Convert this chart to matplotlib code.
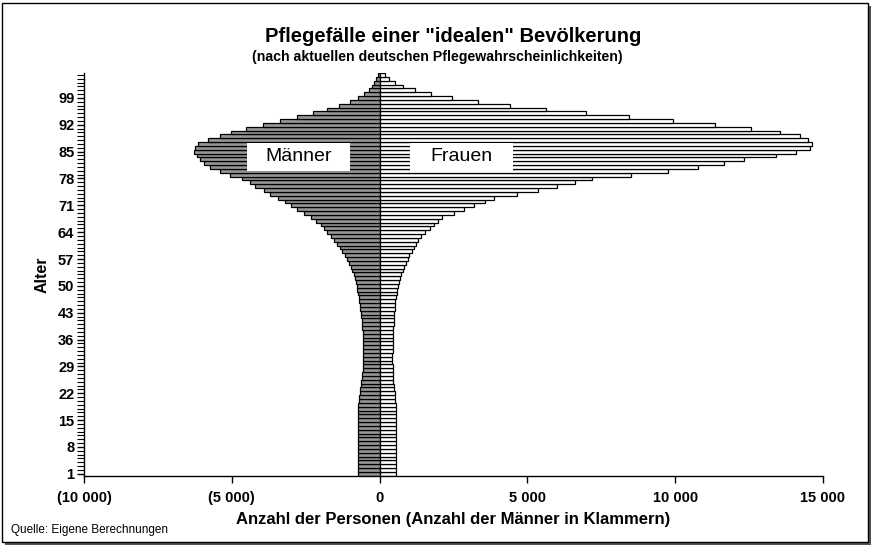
import matplotlib
matplotlib.use("Agg")
import matplotlib.pyplot as plt
from matplotlib.patches import Rectangle
from matplotlib.ticker import FixedLocator, FuncFormatter

plt.rcParams['font.family'] = ['Liberation Sans', 'DejaVu Sans']

# ages 1..105
ages = list(range(1, 106))

# men (absolute counts), ages 1..105, rows of 10 ages
men = [
    745, 745, 745, 745, 745, 745, 745, 745, 745, 745,          # 1-10
    745, 745, 745, 745, 745, 745, 745, 745, 725, 705,          # 11-20
    685, 665, 648, 630, 614, 600, 588, 576, 566, 558,          # 21-30
    552, 548, 548, 550, 554, 560, 567, 575, 584, 595,          # 31-40
    610, 628, 645, 660, 675, 690, 710, 730, 755, 780,          # 41-50
    810, 840, 880, 920, 970, 1030, 1100, 1180, 1260, 1350,     # 51-60
    1450, 1550, 1660, 1780, 1880, 1990, 2150, 2330, 2550, 2800,  # 61-70
    3000, 3200, 3450, 3700, 3920, 4200, 4390, 4650, 5070, 5400,  # 71-80
    5750, 5950, 6070, 6180, 6280, 6240, 6140, 5800, 5414, 5019,  # 81-90
    4512, 3948, 3363, 2800, 2258, 1785, 1358, 997, 716, 513,   # 91-100
    355, 265, 186, 110, 60,                                    # 101-105
]

# women, ages 1..105
women = [
    558, 558, 558, 558, 558, 558, 558, 558, 558, 558,          # 1-10
    558, 558, 558, 558, 558, 558, 558, 558, 550, 537,          # 11-20
    522, 507, 492, 478, 466, 456, 448, 442, 438, 436,          # 21-30
    435, 435, 437, 440, 443, 447, 452, 458, 465, 472,          # 31-40
    480, 488, 495, 505, 515, 530, 550, 575, 600, 630,          # 41-50
    665, 700, 740, 785, 835, 885, 945, 1010, 1090, 1160,       # 51-60
    1230, 1310, 1410, 1550, 1690, 1830, 1975, 2120, 2500, 2870,  # 61-70
    3200, 3550, 3870, 4640, 5350, 6010, 6610, 7180, 8520, 9740,  # 71-80
    10780, 11650, 12330, 13400, 14100, 14550, 14640, 14500, 14220, 13540,  # 81-90
    12580, 11340, 9920, 8440, 6990, 5640, 4410, 3340, 2460, 1740,  # 91-100
    1200, 800, 525, 320, 185,                                  # 101-105
]

y_ticks = list(range(1, 100, 7))
x_ticks = [-10000, -5000, 0, 5000, 10000, 15000]

fig = plt.figure(figsize=(8.77, 5.48), dpi=100)
fig.patch.set_facecolor('white')

# outer frame with shadow
W, H = 877, 548
fig.patches.append(Rectangle((5 / W, 3 / H), 866 / W, 539 / H, transform=fig.transFigure,
                             facecolor='#555555', edgecolor='none', zorder=-3))
fig.patches.append(Rectangle((2 / W, 6 / H), 866 / W, 539 / H, transform=fig.transFigure,
                             facecolor='white', edgecolor='black', linewidth=1, zorder=-2))

ax = fig.add_axes([84 / W, 1 - 475.7 / H, (823 - 84) / W, (475.7 - 73) / H])
ax.set_zorder(2)
ax.set_facecolor('none')

ax.barh(ages, [-m for m in men], height=1.0, color='#969696', edgecolor='black',
        linewidth=0.9, zorder=2)
ax.barh(ages, women, height=1.0, color='white', edgecolor='black',
        linewidth=0.9, zorder=2)

ax.set_xlim(-10000, 15000)
ax.set_ylim(0.5, 105.5)

for s in ['top', 'right']:
    ax.spines[s].set_visible(False)
for s in ['left', 'bottom']:
    ax.spines[s].set_linewidth(1.0)
    ax.spines[s].set_zorder(3)

ax.xaxis.set_major_locator(FixedLocator(x_ticks))


def fmt(v, pos):
    v = int(round(v))
    s = f"{abs(v):,}".replace(",", " ")
    return f"({s})" if v < 0 else s


ax.xaxis.set_major_formatter(FuncFormatter(fmt))
ax.yaxis.set_major_locator(FixedLocator(y_ticks))
ax.yaxis.set_minor_locator(FixedLocator([a for a in ages if a not in y_ticks]))
ax.tick_params(axis='x', direction='out', length=5, width=1, labelsize=10.5, pad=6)
ax.tick_params(axis='y', which='major', direction='out', length=5, width=1, labelsize=10.5, pad=2)
ax.tick_params(axis='y', which='minor', direction='out', length=5, width=0.8)
for lab in ax.get_xticklabels() + ax.get_yticklabels():
    lab.set_fontweight('bold')

ax.set_ylabel('Alter', fontsize=11.5, fontweight='bold', labelpad=6)
ax.set_xlabel('Anzahl der Personen (Anzahl der Männer in Klammern)', fontsize=12,
              fontweight='bold', labelpad=5)

# label boxes
ax.add_patch(Rectangle((-4480, 80.0), 3480, 7.3, facecolor='white', edgecolor='none', zorder=4))
ax.text(-2740, 83.6, 'Männer', ha='center', va='center', fontsize=14, zorder=5)
ax.add_patch(Rectangle((1030, 80.0), 3480, 7.3, facecolor='white', edgecolor='none', zorder=4))
ax.text(2770, 83.6, 'Frauen', ha='center', va='center', fontsize=14, zorder=5)

fig.text(453 / W, 1 - 37 / H, 'Pflegefälle einer "idealen" Bevölkerung', ha='center',
         va='center', fontsize=14.5, fontweight='bold')
fig.text(437 / W, 1 - 57 / H, '(nach aktuellen deutschen Pflegewahrscheinlichkeiten)',
         ha='center', va='center', fontsize=10.2, fontweight='bold')
fig.text(11 / W, 1 - 530 / H, 'Quelle: Eigene Berechnungen', ha='left', va='center',
         fontsize=8.5)

fig.savefig('out.png', dpi=100, facecolor='white')
